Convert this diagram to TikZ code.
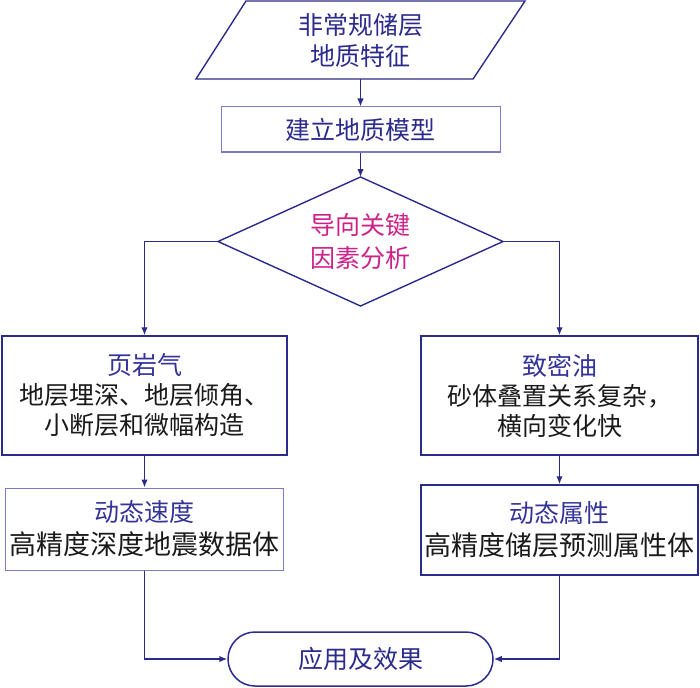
\documentclass[tikz,border=0pt]{standalone}
\usepackage{fontspec}
\newfontfamily\cjk{Noto Sans CJK SC}
\usetikzlibrary{shapes.geometric,arrows.meta}
\definecolor{navy}{HTML}{2B2B8C}
\definecolor{titleblue}{HTML}{333399}
\definecolor{lightline}{HTML}{7C7CC4}
\definecolor{magentatext}{HTML}{CC2288}
\definecolor{bodytext}{HTML}{1A1A1A}
\begin{document}
\begin{tikzpicture}[x=1pt,y=-1pt,
  txt/.style={font=\cjk\fontsize{25}{31}\selectfont, align=center, inner sep=0pt},
  darkbox/.style={draw=navy, line width=1.5pt, rectangle, txt, text=bodytext},
  lightbox/.style={draw=lightline, line width=1pt, rectangle, txt, text=bodytext},
  conn/.style={draw=navy, line width=1.4pt, -{Latex[length=8pt,width=6.5pt]}},
  ttl/.style={text=titleblue}
]
\useasboundingbox (0,0) rectangle (700,687);
% parallelogram
\draw[navy, line width=1.4pt] (246,1) -- (525,1) -- (473,79) -- (196,79) -- cycle;
\node[txt, text=navy, minimum width=230pt, minimum height=78pt] (src) at (360.5,40) {非常规储层\\地质特征};
% build model
\node[lightbox, text=navy, minimum width=279pt, minimum height=45pt] (build) at (360.5,129.5) {建立地质模型};
% diamond
\node[diamond, aspect=2.2, draw=navy, line width=1.4pt, minimum width=285pt, minimum height=129pt, inner sep=0pt, outer sep=0pt,
  font=\cjk\fontsize{25}{33}\selectfont, align=center, text=magentatext] (dia) at (360.5,241.5) {导向关键\\因素分析};
% left column
\node[darkbox, minimum width=285pt, minimum height=119pt, font=\cjk\fontsize{25}{30}\selectfont] (left1) at (144.5,395.5)
  {\textcolor{titleblue}{页岩气}\\地层埋深、地层倾角、\\小断层和微幅构造};
\node[lightbox, minimum width=278pt, minimum height=82pt, font=\cjk\fontsize{27}{33}\selectfont] (left2) at (144.5,529)
  {\textcolor{titleblue}{\fontsize{25}{33}\selectfont 动态速度}\\高精度深度地震数据体};
% right column
\node[darkbox, minimum width=277pt, minimum height=119pt, font=\cjk\fontsize{25}{30}\selectfont] (right1) at (559.5,395.5)
  {\textcolor{titleblue}{致密油}\\砂体叠置关系复杂，\\横向变化快};
\node[darkbox, minimum width=277pt, minimum height=90pt, font=\cjk\fontsize{27}{33}\selectfont] (right2) at (559.5,530)
  {\textcolor{titleblue}{\fontsize{25}{33}\selectfont 动态属性}\\高精度储层预测属性体};
% application
\node[draw=navy, line width=1.5pt, rounded corners=27pt, txt, text=navy, minimum width=265pt, minimum height=54pt] (app) at (360.5,659) {应用及效果};
% connectors
\draw[conn] (src.south) -- (build.north);
\draw[conn] (build.south) -- (dia.north);
\draw[conn] (dia.west) -| (left1.north);
\draw[conn] (dia.east) -| (right1.north);
\draw[conn] (left1.south) -- (left2.north);
\draw[conn] (right1.south) -- (right2.north);
\draw[conn] (left2.south) |- (app.west);
\draw[conn] (right2.south) |- (app.east);
\end{tikzpicture}
\end{document}
